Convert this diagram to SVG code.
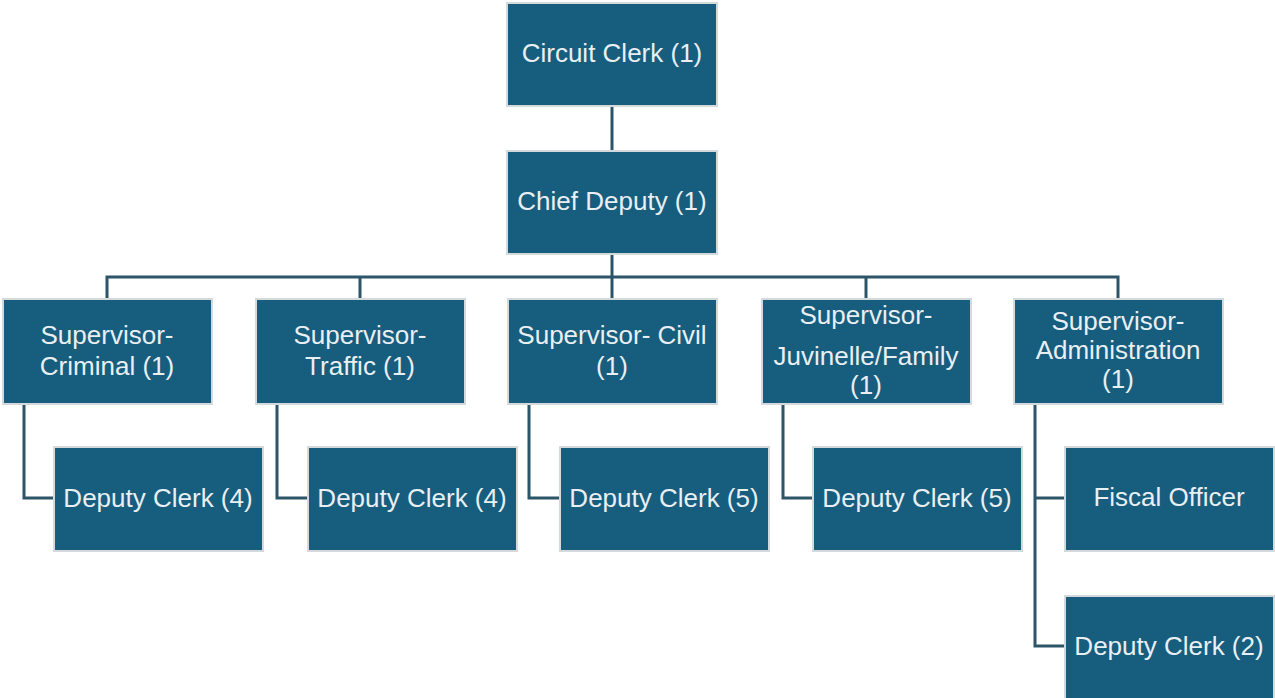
<svg xmlns="http://www.w3.org/2000/svg" width="1275" height="698" viewBox="0 0 1275 698">
  <style>
    .box { fill: #175D7E; stroke: #D4D9DC; stroke-width: 2; }
    .lbl { font-family: "Liberation Sans", Arial, sans-serif; font-size: 26px; fill: #E9EFF2; text-anchor: middle; }
    .wire { fill: none; stroke: #2C5569; stroke-width: 3; }
  </style>
  <rect width="1275" height="698" fill="#FFFFFF"/>

  <!-- connectors -->
  <g id="connectors">
    <path class="wire" d="M612 106 V151"/>
    <path class="wire" d="M612 254 V299"/>
    <path class="wire" d="M107 299 V277 H1118 V299"/>
    <path class="wire" d="M360 277 V299"/>
    <path class="wire" d="M866 277 V299"/>
    <path class="wire" d="M24 404 V498 H54"/>
    <path class="wire" d="M277 404 V498 H308"/>
    <path class="wire" d="M529 404 V498 H560"/>
    <path class="wire" d="M783 404 V498 H813"/>
    <path class="wire" d="M1035 404 V646 H1065"/>
    <path class="wire" d="M1035 498 H1065"/>
  </g>

  <!-- top level -->
  <g id="circuit-clerk">
    <rect class="box" x="507" y="3" width="210" height="103"/>
    <text class="lbl" x="612" y="62">Circuit Clerk (1)</text>
  </g>
  <g id="chief-deputy">
    <rect class="box" x="507" y="151" width="210" height="103"/>
    <text class="lbl" x="612" y="210">Chief Deputy (1)</text>
  </g>

  <!-- supervisors -->
  <g id="sup-criminal">
    <rect class="box" x="3" y="299" width="209" height="105"/>
    <text class="lbl" x="107" y="344">Supervisor-</text>
    <text class="lbl" x="107" y="375">Criminal (1)</text>
  </g>
  <g id="sup-traffic">
    <rect class="box" x="256" y="299" width="209" height="105"/>
    <text class="lbl" x="360" y="344">Supervisor-</text>
    <text class="lbl" x="360" y="375">Traffic (1)</text>
  </g>
  <g id="sup-civil">
    <rect class="box" x="508" y="299" width="209" height="105"/>
    <text class="lbl" x="612" y="344">Supervisor- Civil</text>
    <text class="lbl" x="612" y="375">(1)</text>
  </g>
  <g id="sup-juvenile">
    <rect class="box" x="762" y="299" width="209" height="105"/>
    <text class="lbl" x="866" y="324">Supervisor-</text>
    <text class="lbl" x="866" y="365">Juvinelle/Family</text>
    <text class="lbl" x="866" y="394">(1)</text>
  </g>
  <g id="sup-admin">
    <rect class="box" x="1014" y="299" width="209" height="105"/>
    <text class="lbl" x="1118" y="330">Supervisor-</text>
    <text class="lbl" x="1118" y="359">Administration</text>
    <text class="lbl" x="1118" y="388">(1)</text>
  </g>

  <!-- staff -->
  <g id="dep-criminal">
    <rect class="box" x="54" y="447" width="209" height="104"/>
    <text class="lbl" x="158" y="507">Deputy Clerk (4)</text>
  </g>
  <g id="dep-traffic">
    <rect class="box" x="308" y="447" width="209" height="104"/>
    <text class="lbl" x="412" y="507">Deputy Clerk (4)</text>
  </g>
  <g id="dep-civil">
    <rect class="box" x="560" y="447" width="209" height="104"/>
    <text class="lbl" x="664" y="507">Deputy Clerk (5)</text>
  </g>
  <g id="dep-juvenile">
    <rect class="box" x="813" y="447" width="209" height="104"/>
    <text class="lbl" x="917" y="507">Deputy Clerk (5)</text>
  </g>
  <g id="fiscal-officer">
    <rect class="box" x="1065" y="447" width="209" height="104"/>
    <text class="lbl" x="1169" y="506">Fiscal Officer</text>
  </g>
  <g id="dep-admin">
    <rect class="box" x="1065" y="596" width="209" height="104"/>
    <text class="lbl" x="1169" y="655">Deputy Clerk (2)</text>
  </g>
</svg>
